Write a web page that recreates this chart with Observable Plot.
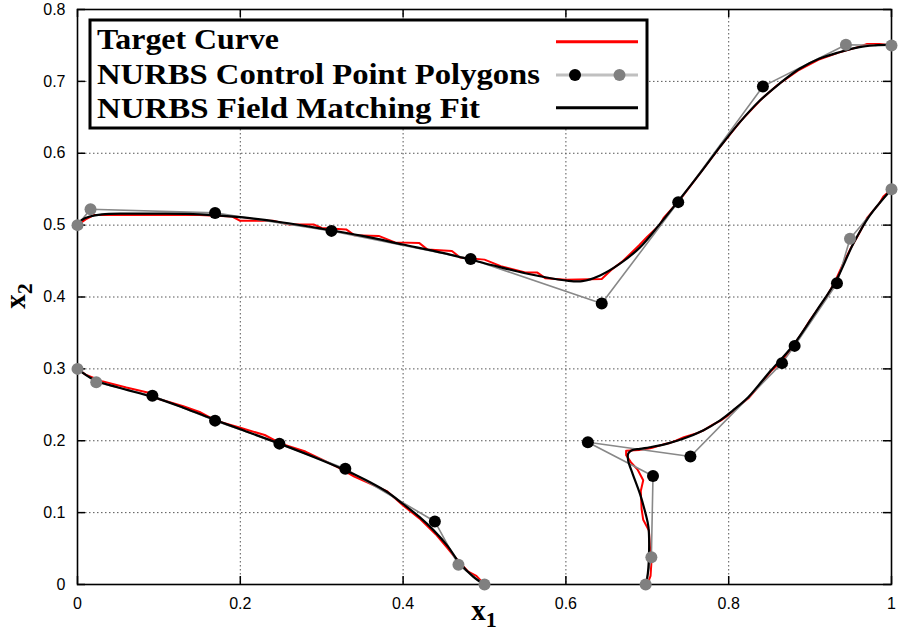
<!DOCTYPE html>
<html><head><meta charset="utf-8">
<script src="https://cdn.jsdelivr.net/npm/d3@7"></script>
<script src="https://cdn.jsdelivr.net/npm/@observablehq/plot@0.6"></script>
<style>html,body{margin:0;padding:0;background:#fff;} svg{display:block}</style>
</head><body><div id="chart"></div>
<script>
// ---- tick values and labels ----
const xTicks = [0, 0.2, 0.4, 0.6, 0.8, 1];
const xTickLabels = ["0", "0.2", "0.4", "0.6", "0.8", "1"];
const yTicks = [0, 0.1, 0.2, 0.3, 0.4, 0.5, 0.6, 0.7, 0.8];
const yTickLabels = ["0", "0.1", "0.2", "0.3", "0.4", "0.5", "0.6", "0.7", "0.8"];

// ---- legend labels ----
const legendLabels = ["Target Curve", "NURBS Control Point Polygons", "NURBS Field Matching Fit"];

// ---- control point polygons (ends gray, interior black) ----
const upperCtrlX = [0, 0.016, 0.169, 0.312, 0.483, 0.644, 0.738, 0.842, 0.944, 1.0];
const upperCtrlY = [0.5, 0.522, 0.517, 0.492, 0.453, 0.391, 0.532, 0.693, 0.751, 0.75];
const lowLeftCtrlX = [0, 0.023, 0.092, 0.169, 0.248, 0.329, 0.439, 0.468, 0.5];
const lowLeftCtrlY = [0.3, 0.2815, 0.2625, 0.228, 0.196, 0.161, 0.0877, 0.0274, 0];
const lowRightCtrlX = [0.698, 0.705, 0.707, 0.627, 0.753, 0.8655, 0.881, 0.933, 0.949, 1.0];
const lowRightCtrlY = [0, 0.038, 0.151, 0.198, 0.178, 0.308, 0.332, 0.419, 0.481, 0.55];

// ---- NURBS fit curves (black) ----
const upperFitX = [0, 0.005, 0.015, 0.03, 0.06, 0.1, 0.15, 0.2, 0.25, 0.3, 0.35, 0.4, 0.45, 0.5, 0.55, 0.6, 0.62, 0.642, 0.666, 0.691, 0.715, 0.737, 0.764, 0.789, 0.8135, 0.838, 0.8626, 0.887, 0.911, 0.936, 0.9607, 0.98, 1.0];
const upperFitY = [0.5, 0.507, 0.512, 0.515, 0.516, 0.516, 0.515, 0.511, 0.504, 0.495, 0.485, 0.473, 0.461, 0.447, 0.433, 0.423, 0.422, 0.43, 0.446, 0.469, 0.501, 0.532, 0.571, 0.6085, 0.643, 0.673, 0.697, 0.7175, 0.7315, 0.7406, 0.7476, 0.75, 0.751];
const lowLeftFitX = [0, 0.02, 0.05, 0.092, 0.13, 0.169, 0.2, 0.248, 0.3, 0.329, 0.36, 0.38, 0.4, 0.42, 0.437, 0.455, 0.468, 0.486, 0.5];
const lowLeftFitY = [0.3, 0.285, 0.274, 0.261, 0.246, 0.229, 0.216, 0.196, 0.173, 0.159, 0.142, 0.129, 0.112, 0.094, 0.076, 0.053, 0.032, 0.011, 0];
const lowRightFitX = [0.698, 0.7, 0.702, 0.7014, 0.698, 0.691, 0.682, 0.6765, 0.6765, 0.6805, 0.691, 0.703, 0.7235, 0.744, 0.7685, 0.789, 0.805, 0.824, 0.838, 0.852, 0.879, 0.908, 0.932, 0.953, 0.973, 1.0];
const lowRightFitY = [0, 0.01, 0.038, 0.08, 0.098, 0.126, 0.154, 0.1725, 0.182, 0.1864, 0.1888, 0.191, 0.1957, 0.2027, 0.2143, 0.228, 0.242, 0.2606, 0.279, 0.298, 0.3325, 0.381, 0.423, 0.474, 0.513, 0.55];

// ---- target curves (red) ----
const upperTargetX = [0, 0.01, 0.02, 0.08, 0.15, 0.19, 0.2, 0.24, 0.26, 0.29, 0.3, 0.33, 0.34, 0.37, 0.39, 0.42, 0.43, 0.46, 0.47, 0.5, 0.52, 0.55, 0.565, 0.575, 0.6, 0.644, 0.655, 0.67, 0.69, 0.7, 0.715, 0.72, 0.74, 0.76, 0.79, 0.815, 0.84, 0.86, 0.885, 0.91, 0.935, 0.96, 0.97, 0.985, 1.0];
const upperTargetY = [0.5, 0.508, 0.514, 0.514, 0.514, 0.512, 0.506, 0.506, 0.501, 0.501, 0.496, 0.494, 0.486, 0.485, 0.476, 0.475, 0.466, 0.464, 0.455, 0.452, 0.443, 0.434, 0.434, 0.426, 0.424, 0.425, 0.437, 0.45, 0.472, 0.484, 0.5, 0.51, 0.535, 0.565, 0.61, 0.645, 0.675, 0.695, 0.715, 0.73, 0.74, 0.748, 0.752, 0.752, 0.75];
const lowLeftTargetX = [0, 0.01, 0.03, 0.06, 0.09, 0.1, 0.13, 0.15, 0.17, 0.2, 0.23, 0.25, 0.28, 0.3, 0.32, 0.34, 0.36, 0.38, 0.4, 0.42, 0.44, 0.455, 0.462, 0.47, 0.48, 0.49, 0.5];
const lowLeftTargetY = [0.3, 0.292, 0.283, 0.274, 0.266, 0.258, 0.248, 0.24, 0.228, 0.218, 0.208, 0.196, 0.185, 0.174, 0.163, 0.15, 0.14, 0.13, 0.11, 0.092, 0.07, 0.05, 0.04, 0.03, 0.018, 0.012, 0];
const lowRightTargetX = [0.7, 0.704, 0.705, 0.703, 0.702, 0.695, 0.693, 0.692, 0.695, 0.688, 0.68, 0.674, 0.674, 0.69, 0.705, 0.72, 0.728, 0.735, 0.745, 0.76, 0.77, 0.78, 0.79, 0.8, 0.812, 0.825, 0.84, 0.852, 0.865, 0.88, 0.89, 0.9, 0.91, 0.92, 0.93, 0.94, 0.95, 0.96, 0.97, 0.985, 0.99, 1.0];
const lowRightTargetY = [0, 0.012, 0.03, 0.055, 0.075, 0.09, 0.105, 0.13, 0.145, 0.16, 0.17, 0.18, 0.186, 0.187, 0.19, 0.195, 0.197, 0.2, 0.205, 0.21, 0.215, 0.222, 0.228, 0.236, 0.248, 0.26, 0.28, 0.297, 0.31, 0.333, 0.35, 0.368, 0.384, 0.4, 0.42, 0.445, 0.468, 0.488, 0.51, 0.53, 0.54, 0.55];

// ---- build tables ----
function rows(xs, ys, curve) { return xs.map((x, i) => ({x, y: ys[i], curve, i, n: xs.length})); }
const ctrl = [
  ...rows(upperCtrlX, upperCtrlY, "upper"),
  ...rows(lowLeftCtrlX, lowLeftCtrlY, "lowLeft"),
  ...rows(lowRightCtrlX, lowRightCtrlY, "lowRight")
];
const isEnd = d => d.i < 2 || d.i >= d.n - 2;
const fit = [
  ...rows(upperFitX, upperFitY, "upper"),
  ...rows(lowLeftFitX, lowLeftFitY, "lowLeft"),
  ...rows(lowRightFitX, lowRightFitY, "lowRight")
];
const target = [
  ...rows(upperTargetX, upperTargetY, "upper"),
  ...rows(lowLeftTargetX, lowLeftTargetY, "lowLeft"),
  ...rows(lowRightTargetX, lowRightTargetY, "lowRight")
];

const W = 898, H = 633, mL = 77, mR = 7, mT = 9, mB = 49;
const pw = W - mL - mR, ph = H - mT - mB, tl = 8;

const chart = Plot.plot({
  width: W, height: H,
  marginLeft: mL, marginRight: mR, marginTop: mT, marginBottom: mB,
  x: {domain: [0, 1]},
  y: {domain: [0, 0.8]},
  style: {fontFamily: "'Liberation Sans', Arial, sans-serif", fontSize: "16px", color: "black", background: "white"},
  marks: [
    Plot.gridX(xTicks, {stroke: "#555", strokeOpacity: 1, strokeWidth: 1, strokeDasharray: "1.5,2.5"}),
    Plot.gridY(yTicks, {stroke: "#555", strokeOpacity: 1, strokeWidth: 1, strokeDasharray: "1.5,2.5"}),
    Plot.axisX(xTicks, {tickSize: 0, tickPadding: 13, label: null, fontSize: 16, fill: "black", tickFormat: d => xTickLabels[xTicks.indexOf(d)]}),
    Plot.axisY(yTicks, {tickSize: 0, tickPadding: 12, label: null, fontSize: 16, fill: "black", tickFormat: d => yTickLabels[yTicks.indexOf(d)]}),
    Plot.tickX(xTicks, {x: d => d, stroke: "black", strokeWidth: 1.5, insetTop: ph - tl}),
    Plot.tickX(xTicks, {x: d => d, stroke: "black", strokeWidth: 1.5, insetBottom: ph - tl}),
    Plot.tickY(yTicks, {y: d => d, stroke: "black", strokeWidth: 1.5, insetRight: pw - tl}),
    Plot.tickY(yTicks, {y: d => d, stroke: "black", strokeWidth: 1.5, insetLeft: pw - tl}),
    Plot.frame({stroke: "black", strokeWidth: 1.6}),
    Plot.line(target, {x: "x", y: "y", z: "curve", stroke: "#ff0000", strokeWidth: 2}),
    Plot.line(ctrl, {x: "x", y: "y", z: "curve", stroke: "#888", strokeWidth: 1.6}),
    Plot.line(fit, {x: "x", y: "y", z: "curve", stroke: "black", strokeWidth: 2.2, curve: "catmull-rom"}),
    Plot.dot(ctrl.filter(d => !isEnd(d)), {x: "x", y: "y", r: 6, fill: "black", stroke: "none"}),
    Plot.dot(ctrl.filter(isEnd), {x: "x", y: "y", r: 6, fill: "#808080", stroke: "none"})
  ]
});
document.getElementById("chart").appendChild(chart);

// ---- legend and axis titles ----
const svg = d3.select(chart);
const serif = "'Liberation Serif', 'Times New Roman', serif";
const lg = svg.append("g").attr("text-anchor", "start");
lg.append("rect").attr("x", 90).attr("y", 20).attr("width", 557).attr("height", 108)
  .attr("fill", "white").attr("stroke", "black").attr("stroke-width", 3);
const baselines = [48.5, 83.5, 118];
const widths = [182, 443, 383];
legendLabels.forEach((t, i) => {
  lg.append("text").attr("x", 97).attr("y", baselines[i])
    .attr("text-anchor", "start")
    .attr("font-family", serif)
    .attr("font-weight", "bold").attr("font-size", 30)
    .attr("textLength", widths[i]).attr("lengthAdjust", "spacingAndGlyphs")
    .attr("fill", "black").text(t);
});
lg.append("line").attr("x1", 556).attr("x2", 638).attr("y1", 41.7).attr("y2", 41.7)
  .attr("stroke", "#ff0000").attr("stroke-width", 3);
lg.append("line").attr("x1", 556).attr("x2", 638).attr("y1", 75).attr("y2", 75)
  .attr("stroke", "#c0c0c0").attr("stroke-width", 3);
lg.append("circle").attr("cx", 575).attr("cy", 75).attr("r", 6).attr("fill", "black");
lg.append("circle").attr("cx", 619.5).attr("cy", 75).attr("r", 6).attr("fill", "#808080");
lg.append("line").attr("x1", 556).attr("x2", 638).attr("y1", 107.7).attr("y2", 107.7)
  .attr("stroke", "black").attr("stroke-width", 3);

const xl = svg.append("text").attr("x", 484).attr("y", 620).attr("text-anchor", "middle")
  .attr("font-family", serif).attr("font-weight", "bold").attr("font-size", 29).attr("fill", "black");
xl.append("tspan").text("x");
xl.append("tspan").attr("font-size", 22).attr("dy", 7).text("1");
const yl = svg.append("text").attr("transform", "translate(25,296) rotate(-90)").attr("text-anchor", "middle")
  .attr("font-family", serif).attr("font-weight", "bold").attr("font-size", 29).attr("fill", "black");
yl.append("tspan").text("x");
yl.append("tspan").attr("font-size", 22).attr("dy", 7).text("2");
</script>
</body></html>
